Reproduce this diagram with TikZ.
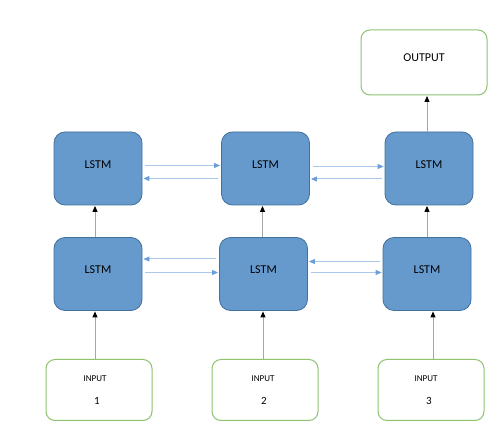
\documentclass[tikz,border=0pt]{standalone}
\usepackage{fontspec}
\setmainfont{Carlito}
\usetikzlibrary{arrows.meta}
\definecolor{boxfill}{HTML}{6699CC}
\definecolor{boxedge}{HTML}{41719C}
\definecolor{grn}{HTML}{8DC26F}
\definecolor{harr}{HTML}{A9C8EB}
\definecolor{harrtip}{HTML}{6A9FD8}
\definecolor{varr}{HTML}{A6A6A6}
\newcommand{\lstmtxt}{\raisebox{8pt}{LSTM}}
\tikzset{
  lstm/.style={draw=boxedge, line width=0.8pt, fill=boxfill, rounded corners=11pt,
    minimum width=88pt, minimum height=73pt, inner sep=0pt, font=\fontsize{12}{14}\selectfont},
  io/.style={draw=grn, line width=1pt, fill=white, rounded corners=9pt, inner sep=0pt},
  harrow/.style={draw=harr, line width=1pt, -{Triangle[length=6pt,width=5pt,color=harrtip]}, shorten <=3pt, shorten >=1pt},
  varrow/.style={draw=varr, line width=1pt, -{Triangle[length=6pt,width=5pt,color=black]}, shorten >=0.5pt}
}
\begin{document}
\begin{tikzpicture}[x=1pt,y=-1pt]
\useasboundingbox (0,0) rectangle (499,441);
% LSTM boxes
\node[lstm] (t1) at (98,168.5) {\lstmtxt};
\node[lstm] (t2) at (265.5,168.5) {\lstmtxt};
\node[lstm] (t3) at (429,168.5) {\lstmtxt};
\node[lstm] (b1) at (98,274) {\lstmtxt};
\node[lstm] (b2) at (263.5,274) {\lstmtxt};
\node[lstm] (b3) at (427,274) {\lstmtxt};
% output
\node[io, minimum width=126pt, minimum height=65pt] (out) at (424,62.5) {};
\node[font=\fontsize{12}{14}\selectfont] (outl) at (424,58) {OUTPUT};
% inputs
\node[io, minimum width=106pt, minimum height=61pt] (i1) at (99,390) {};
\node[io, minimum width=106pt, minimum height=61pt] (i2) at (265,390) {};
\node[io, minimum width=106pt, minimum height=61pt] (i3) at (431,390) {};
\node[font=\fontsize{9}{10}\selectfont] (i1a) at (95,379) {INPUT};
\node[font=\fontsize{11}{12}\selectfont] (i1b) at (97,401) {1};
\node[font=\fontsize{9}{10}\selectfont] (i2a) at (263,379) {INPUT};
\node[font=\fontsize{11}{12}\selectfont] (i2b) at (264,401) {2};
\node[font=\fontsize{9}{10}\selectfont] (i3a) at (426,379) {INPUT};
\node[font=\fontsize{11}{12}\selectfont] (i3b) at (429,401) {3};
% horizontal arrows top
\draw[harrow] ([yshift=3pt]t1.east) -- ([yshift=3pt]t2.west);
\draw[harrow] ([yshift=-10pt]t2.west) -- ([yshift=-10pt]t1.east);
\draw[harrow] ([yshift=2pt]t2.east) -- ([yshift=2pt]t3.west);
\draw[harrow] ([yshift=-10.5pt]t3.west) -- ([yshift=-10.5pt]t2.east);
% horizontal arrows bottom
\draw[harrow] ([yshift=15pt]b2.west) -- ([yshift=15pt]b1.east);
\draw[harrow] ([yshift=1.5pt]b1.east) -- ([yshift=1.5pt]b2.west);
\draw[harrow] ([yshift=12.5pt]b3.west) -- ([yshift=12.5pt]b2.east);
\draw[harrow] ([yshift=1.5pt]b2.east) -- ([yshift=1.5pt]b3.west);
% vertical arrows
\draw[varrow] ([xshift=-3pt]b1.north) -- ([xshift=-3pt]b1.north |- t1.south);
\draw[varrow] ([xshift=-1pt]b2.north) -- ([xshift=-1pt]b2.north |- t2.south);
\draw[varrow] (b3.north) -- (b3.north |- t3.south);
\draw[varrow] ([xshift=-2pt]t3.north) -- ([xshift=-2pt]t3.north |- out.south);
\draw[varrow] ([xshift=-4pt]i1.north) -- ([xshift=-4pt]i1.north |- b1.south);
\draw[varrow] ([xshift=-2pt]i2.north) -- ([xshift=-2pt]i2.north |- b2.south);
\draw[varrow] ([xshift=2pt]i3.north) -- ([xshift=2pt]i3.north |- b3.south);
\end{tikzpicture}
\end{document}
